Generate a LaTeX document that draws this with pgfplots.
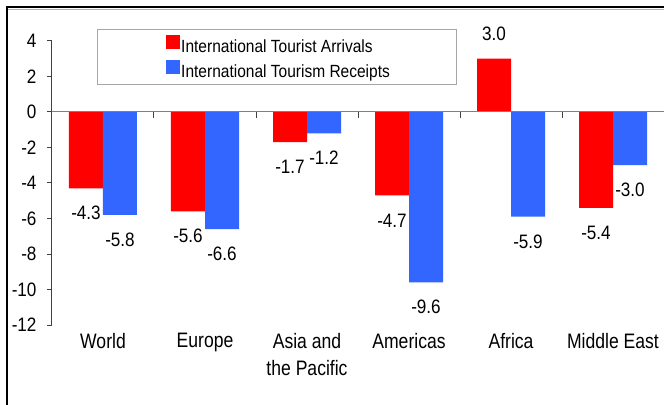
\documentclass[border=0pt]{standalone}
\usepackage{fontspec}
\setmainfont{Liberation Sans}[FakeStretch=0.88]
\newfontfamily\catfont{Liberation Sans}[FakeStretch=0.84]
\usepackage{pgfplots}
\pgfplotsset{compat=1.18}
\definecolor{barred}{RGB}{255,0,0}
\definecolor{barblue}{RGB}{51,102,255}
\definecolor{axgray}{RGB}{128,128,128}
\definecolor{axdark}{RGB}{64,64,64}

\pgfplotstableread{
x arrivals receipts
0 -4.3 -5.8
1 -5.6 -6.6
2 -1.7 -1.2
3 -4.7 -9.6
4 3.0 -5.9
5 -5.4 -3.0
}\datatable

\begin{document}
\begin{tikzpicture}
\path[use as bounding box] (-52bp,-80bp) rectangle (612bp,325bp);
\draw[line width=2bp] (-45bp,-81bp) -- (-45bp,317.5bp) -- (613bp,317.5bp);
\draw[line width=0.8bp, gray!60] (-44bp,315.8bp) -- (613bp,315.8bp);
\draw[gray!70, line width=1bp] (45bp,295bp) rectangle (404bp,240bp);
\begin{axis}[
  name=ax, at={(0,0)}, anchor=south west,
  width=612bp, height=284bp, scale only axis,
  xmin=-0.5, xmax=5.5, ymin=-12, ymax=4,
  axis y line*=left, axis x line*=bottom,
  x axis line style={draw=none},
  y axis line style={-, draw=axdark, line width=1bp},
  /pgf/number format/assume math mode=true,
  ytick={-12,-10,...,4},
  ytick style={draw=axdark, line width=1bp},
  tick align=outside, major tick length=5bp,
  yticklabel style={font=\fontsize{19.5}{22}\selectfont, text=black, xshift=-7bp},
  xtick={0,...,5}, xtick style={draw=none},
  xticklabels={World, Europe, {Asia and\\the Pacific}, Americas, Africa, Middle East},
  xticklabel style={align=center, font=\catfont\fontsize{21}{27}\selectfont, text=black},
  ybar=0pt, bar width=34bp,
  nodes near coords,
  visualization depends on={rawy \as \rawy},
  every node near coord/.append style={font=\fontsize{19.5}{22}\selectfont, text=black, anchor=center,
     yshift={ifthenelse(\rawy<0,-25,25)}},
  nodes near coords style={/pgf/number format/.cd, fixed, fixed zerofill, precision=1, assume math mode=true},
  legend style={at={(0,1)}, anchor=north west, xshift=114bp, yshift=6.5bp,
     draw=none, fill=none, inner xsep=0pt, inner ysep=0pt,
     font=\fontsize{17.7}{20}\selectfont, row sep=5bp, column sep=0pt,
     nodes={inner xsep=1bp, inner ysep=0pt, text height=12bp, text depth=3bp}},
  legend cell align=left,
  legend image code/.code={\fill[#1, draw=none] (0bp,-1bp) rectangle (14bp,13bp);},
]
\addplot[fill=barred, draw=none] table[x=x, y=arrivals] {\datatable};
\addplot[fill=barblue, draw=none] table[x=x, y=receipts] {\datatable};
\legend{International Tourist Arrivals, International Tourism Receipts}
\draw[axgray, line width=1bp] ([xshift=-7bp]axis cs:-0.5,0) -- (axis cs:5.5,0);
\pgfplotsinvokeforeach{0.5,1.5,2.5,3.5,4.5}{\draw[axdark, line width=1bp] (axis cs:#1,0) -- ([yshift=-6bp]axis cs:#1,0);}
\end{axis}
\end{tikzpicture}
\end{document}
